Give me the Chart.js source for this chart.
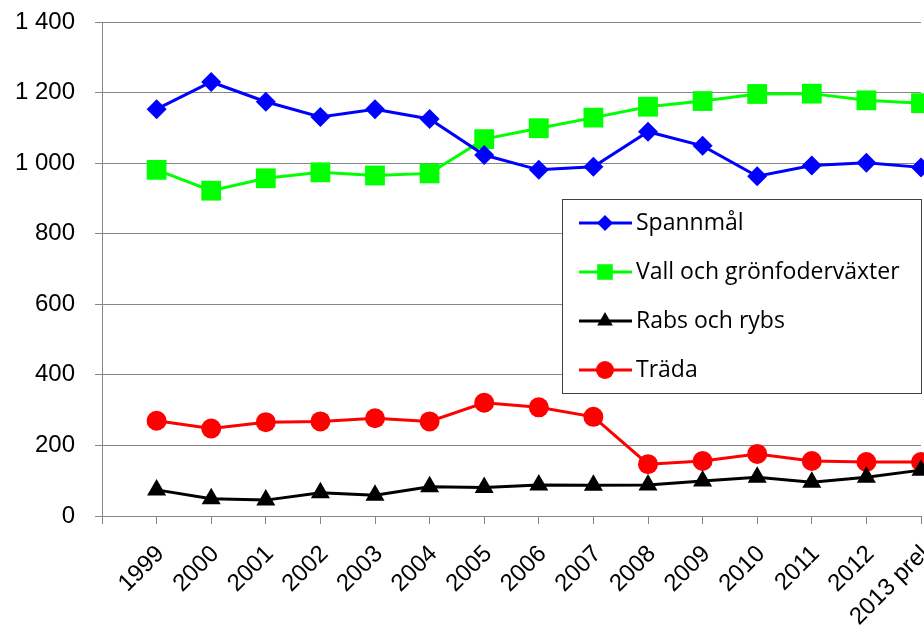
<!DOCTYPE html>
<html>
<head>
<meta charset="utf-8">
<script src="https://cdn.jsdelivr.net/npm/chart.js@4/dist/chart.umd.min.js"></script>
<style>
html,body{margin:0;padding:0;background:#fff;overflow:hidden;width:924px;height:627px;}
/* slightly wider than the window so the last category sits on the right edge, like the original */
#wrap{width:935px;height:627px;position:relative;}
</style>
</head>
<body>
<div id="wrap"><canvas id="areaChart"></canvas></div>
<script>
const years=['1999','2000','2001','2002','2003','2004','2005','2006','2007','2008','2009','2010','2011','2012','2013 prel'];
const spannmal=[1153,1230,1174,1131,1153,1125,1023,981,990,1089,1049,963,993,1001,988];
const vall=[981,922,957,974,965,971,1068,1099,1129,1160,1176,1196,1197,1178,1170];
const rabs=[74,49,45,66,59,83,81,88,87,88,99,110,96,110,130];
const trada=[270,248,266,268,277,268,321,308,281,147,156,176,156,153,153];
const yTicks=[0,200,400,600,800,1000,1200,1400];

// excel style: an empty slot before the first year
const labels=[''].concat(years);
function pad(arr){return [null].concat(arr);}
function fmt(v){return String(v).replace(/\B(?=(\d{3})+(?!\d))/g,' ');}

const axisGrey='#868686';

// legend drawn inside the plot, like the original
const boxLegend={
    id:'boxLegend',
    afterDraw(chart){
        const ctx=chart.ctx;
        const x0=562,y0=199,w=359,h=194;
        ctx.save();
        ctx.fillStyle='#fff';
        ctx.fillRect(x0,y0,w,h);
        ctx.strokeStyle='#404040';
        ctx.lineWidth=1;
        ctx.strokeRect(x0+0.5,y0+0.5,w,h);
        chart.data.datasets.forEach((ds,i)=>{
            const y=y0+24+i*49;
            ctx.strokeStyle=ds.borderColor;
            ctx.lineWidth=3;
            ctx.beginPath();
            ctx.moveTo(x0+17,y);
            ctx.lineTo(x0+70,y);
            ctx.stroke();
            ctx.fillStyle=ds.backgroundColor;
            Chart.helpers.drawPoint(ctx,{pointStyle:ds.pointStyle,radius:ds.legendRadius,borderWidth:0,rotation:0},x0+43,y);
            ctx.fillStyle='#000';
            ctx.font='23px "Open Sans"';
            ctx.textBaseline='middle';
            ctx.fillText(ds.label,x0+74,y);
        });
        ctx.restore();
    }
};

function line(label,data,color,style,r,lr){
    return {
        label:label,
        data:pad(data),
        borderColor:color,
        backgroundColor:color,
        borderWidth:3,
        pointStyle:style,
        pointRadius:r,
        pointBorderWidth:0,
        pointBackgroundColor:color,
        legendRadius:lr,
        tension:0,
        spanGaps:false
    };
}

new Chart(document.getElementById('areaChart'),{
    type:'line',
    data:{
        labels:labels,
        datasets:[
            line('Spannmål',spannmal,'#0000ff','rectRot',10,8),
            line('Vall och grönfoderväxter',vall,'#00ff00','rect',14,11),
            line('Rabs och rybs',rabs,'#000000','triangle',11,9),
            line('Träda',trada,'#ff0000','circle',10,9)
        ]
    },
    options:{
        responsive:true,
        maintainAspectRatio:false,
        animation:false,
        layout:{padding:{top:22,right:4,left:0,bottom:0}},
        plugins:{legend:{display:false},tooltip:{enabled:false}},
        scales:{
            x:{
                offset:false,
                grid:{display:true,drawOnChartArea:false,drawTicks:true,tickLength:8,color:axisGrey},
                border:{color:axisGrey,width:1},
                ticks:{
                    autoSkip:false,
                    maxRotation:45,minRotation:45,
                    padding:16,
                    labelOffset:4,
                    color:'#000',
                    font:{family:'"Liberation Sans", Arial',size:24}
                },
                afterFit(s){s.height=111;s.paddingLeft=0;s.paddingRight=0;}
            },
            y:{
                min:0,max:1400,
                afterBuildTicks(s){s.ticks=yTicks.map(v=>({value:v}));},
                grid:{color:axisGrey,tickLength:7,drawTicks:true},
                border:{color:axisGrey,width:1},
                ticks:{
                    padding:20,
                    color:'#000',
                    font:{family:'"Liberation Sans", Arial',size:24},
                    callback:v=>fmt(v)
                },
                afterFit(s){s.width=102;s.paddingTop=0;s.paddingBottom=0;}
            }
        }
    },
    plugins:[boxLegend]
});
</script>
</body>
</html>
